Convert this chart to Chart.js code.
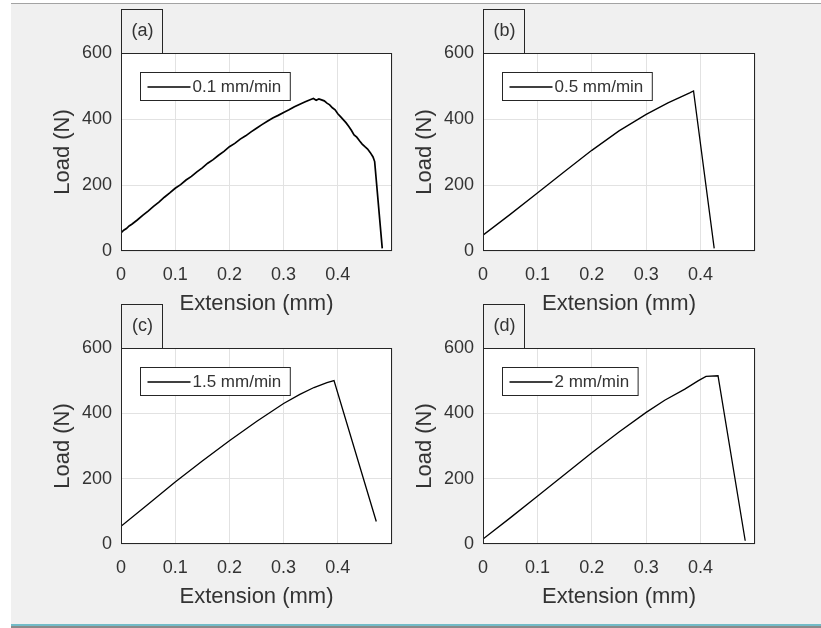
<!DOCTYPE html>
<html>
<head>
<meta charset="utf-8">
<script src="https://cdn.jsdelivr.net/npm/chart.js@4.4.0/dist/chart.umd.min.js"></script>
<style>
  html, body { margin: 0; padding: 0; background: #ffffff; width: 821px; height: 628px; overflow: hidden; }
  #fig { position: absolute; left: 11px; top: 3px; width: 810px; height: 620px; background: #f0f0f0; border-top: 1px solid #a3a3a3; }
  #teal { position: absolute; left: 11px; top: 624px; width: 810px; height: 2px; background: #72bcc8; }
  #dark { position: absolute; left: 11px; top: 626px; width: 810px; height: 2px; background: #8a8a8a; }
  canvas { position: absolute; }
</style>
</head>
<body>
<div id="fig"></div>
<div id="teal"></div>
<div id="dark"></div>
<canvas id="ca" width="410" height="320" style="left:0px;top:0px;"></canvas>
<canvas id="cb" width="411" height="320" style="left:362px;top:0px;"></canvas>
<canvas id="cc" width="410" height="318" style="left:0px;top:295px;"></canvas>
<canvas id="cd" width="411" height="318" style="left:362px;top:295px;"></canvas>
<script>
// ---- data ----
const xTickLabels = ['0', '0.1', '0.2', '0.3', '0.4', ''];
const yTickLabels = ['0', '200', '400', '600'];
const xTitle = 'Extension (mm)';
const yTitle = 'Load (N)';

const panelTags = ['(a)', '(b)', '(c)', '(d)'];
const seriesLabels = ['0.1 mm/min', '0.5 mm/min', '1.5 mm/min', '2 mm/min'];

const extA = [0, 0.005, 0.01, 0.015, 0.02, 0.03, 0.04, 0.05, 0.06, 0.07, 0.08, 0.09, 0.10, 0.11, 0.12, 0.13, 0.14, 0.15, 0.16, 0.17, 0.18, 0.19, 0.20,
  0.21, 0.22, 0.23, 0.24, 0.25, 0.26, 0.27, 0.28, 0.29, 0.30, 0.31, 0.32, 0.33, 0.34, 0.35, 0.355, 0.36, 0.365, 0.37, 0.375, 0.38,
  0.385, 0.39, 0.395, 0.40, 0.405, 0.41, 0.415, 0.42, 0.425, 0.43, 0.435, 0.44, 0.445, 0.45, 0.455, 0.46, 0.465, 0.468, 0.482];
const loadA = [55, 63, 68, 76, 81, 94, 108, 121, 135, 148, 163, 176, 190, 201, 215, 226, 240, 252, 266, 277, 290, 302, 316,
  326, 339, 349, 361, 372, 383, 393, 403, 411, 420, 428, 437, 445, 452, 459, 462, 457, 461, 458, 455, 448,
  443, 434, 428, 416, 407, 398, 389, 378, 366, 352, 345, 334, 324, 316, 309, 298, 285, 271, 8];

const extB = [0, 0.05, 0.1, 0.15, 0.2, 0.25, 0.3, 0.34, 0.36, 0.38, 0.387, 0.425];
const loadB = [48, 111, 176, 241, 305, 364, 414, 449, 464, 479, 485, 8];

const extC = [0, 0.05, 0.1, 0.15, 0.2, 0.25, 0.3, 0.33, 0.356, 0.38, 0.393, 0.471];
const loadC = [54, 122, 190, 254, 316, 375, 430, 458, 479, 494, 500, 69];

const extD = [0, 0.05, 0.1, 0.15, 0.2, 0.25, 0.3, 0.334, 0.371, 0.396, 0.41, 0.432, 0.482];
const loadD = [15, 80, 146, 213, 279, 343, 403, 440, 474, 500, 513, 515, 10];

// ---- drawing ----
const FONT = "'Liberation Sans', Arial, sans-serif";
const INK = '#333333';

const decor = {
  id: 'decor',
  beforeDraw(chart) {
    const a = chart.chartArea, ctx = chart.ctx;
    ctx.save();
    ctx.fillStyle = '#ffffff';
    ctx.fillRect(a.left, a.top, a.right - a.left, a.bottom - a.top);
    ctx.restore();
  },
  afterDraw(chart) {
    const a = chart.chartArea, ctx = chart.ctx;
    const o = chart.options.plugins.decor;
    const L = Math.round(a.left) + 0.5, T = Math.round(a.top) + 0.5;
    const R = Math.round(a.right) - 0.5, B = Math.round(a.bottom) - 0.5;
    ctx.save();
    ctx.strokeStyle = '#262626';
    ctx.lineWidth = 1;
    ctx.strokeRect(L, T, R - L, B - T);
    // panel tag box
    ctx.fillStyle = '#f0f0f0';
    ctx.fillRect(L, T - 44, 41, 44);
    ctx.strokeRect(L, T - 44, 41, 44);
    ctx.fillStyle = INK;
    ctx.font = '18px ' + FONT;
    ctx.textAlign = 'center';
    ctx.textBaseline = 'middle';
    ctx.fillText(o.tag, L + 21, T - 22);
    // legend box
    ctx.font = '17px ' + FONT;
    const label = chart.data.datasets[0].label;
    const tw = ctx.measureText(label).width;
    const bx = L + 19, by = T + 19, bw = tw + 61, bh = 28;
    ctx.fillStyle = '#ffffff';
    ctx.fillRect(bx, by, bw, bh);
    ctx.strokeRect(bx, by, bw, bh);
    ctx.beginPath();
    ctx.lineWidth = 1.3;
    ctx.strokeStyle = '#000000';
    ctx.moveTo(bx + 7, by + 14.5);
    ctx.lineTo(bx + 50, by + 14.5);
    ctx.stroke();
    ctx.fillStyle = INK;
    ctx.textAlign = 'left';
    ctx.fillText(label, bx + 52, by + 15);
    ctx.restore();
  }
};

function makePanel(id, xs, ys, label, tag, lw) {
  const pts = xs.map((x, i) => ({ x: x, y: ys[i] }));
  return new Chart(document.getElementById(id), {
    type: 'line',
    data: { datasets: [{ label: label, data: pts, borderColor: '#000000', borderWidth: lw, pointRadius: 0, tension: 0, fill: false }] },
    options: {
      responsive: false,
      devicePixelRatio: 1,
      animation: false,
      events: [],
      layout: { padding: { left: 0, right: 18, top: 53, bottom: 0 } },
      plugins: { legend: { display: false }, tooltip: { enabled: false }, decor: { tag: tag } },
      scales: {
        x: {
          type: 'linear', min: 0, max: 0.5,
          afterBuildTicks: s => { s.ticks = xTickLabels.map((t, i) => ({ value: i * 0.1 })); },
          afterFit: s => { s.height = 69; },
          grid: { color: '#e2e2e2', drawTicks: false },
          border: { display: false },
          ticks: { color: INK, font: { family: FONT, size: 18 }, padding: 13, maxRotation: 0, autoSkip: false,
                   callback: (v, i) => xTickLabels[i] },
          title: { display: true, text: xTitle, color: INK, font: { family: FONT, size: 22 }, padding: { top: 0, bottom: 3 } }
        },
        y: {
          min: 0, max: 600,
          afterBuildTicks: s => { s.ticks = yTickLabels.map((t, i) => ({ value: i * 200 })); },
          afterFit: s => { s.width = 121; },
          grid: { color: '#e2e2e2', drawTicks: false },
          border: { display: false },
          ticks: { color: INK, font: { family: FONT, size: 18 }, padding: 9, autoSkip: false,
                   callback: (v, i) => yTickLabels[i] },
          title: { display: true, text: yTitle, color: INK, font: { family: FONT, size: 22 }, padding: { top: 50, bottom: 0 } }
        }
      }
    },
    plugins: [decor]
  });
}

makePanel('ca', extA, loadA, seriesLabels[0], panelTags[0], 1.7);
makePanel('cb', extB, loadB, seriesLabels[1], panelTags[1], 1.3);
makePanel('cc', extC, loadC, seriesLabels[2], panelTags[2], 1.3);
makePanel('cd', extD, loadD, seriesLabels[3], panelTags[3], 1.3);
</script>
</body>
</html>
